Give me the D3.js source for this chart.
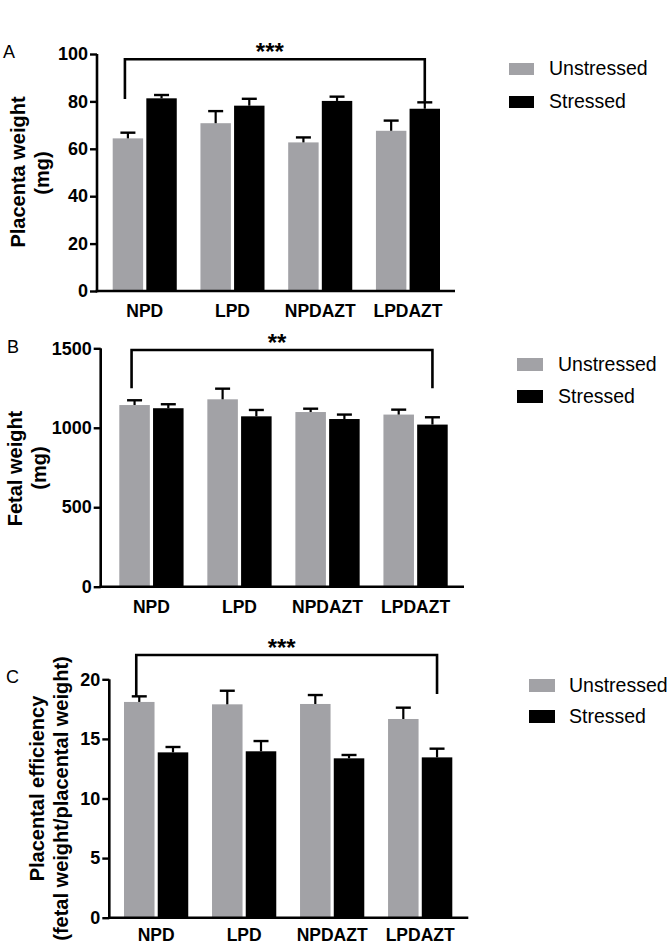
<!DOCTYPE html>
<html>
<head>
<meta charset="utf-8">
<script src="https://cdn.jsdelivr.net/npm/d3@7"></script>
<style>
  html, body { margin: 0; padding: 0; background: #fff; }
  svg { display: block; font-family: "Liberation Sans", Arial, Helvetica, sans-serif; }
</style>
</head>
<body>
<svg id="chart" width="669" height="944"></svg>
<script>
// ---------- DATA ----------
const categories = ["NPD", "LPD", "NPDAZT", "LPDAZT"];
const seriesNames = ["Unstressed", "Stressed"];

// Panel A: placenta weight (mg)
const placentaUnstressed = [64.4, 70.8, 62.7, 67.6];
const placentaUnstressedErr = [2.4, 5.1, 2.1, 4.3];
const placentaStressed = [81.3, 78.2, 80.2, 76.9];
const placentaStressedErr = [1.4, 2.9, 1.8, 2.7];
const placentaTicks = [0, 20, 40, 60, 80, 100];

// Panel B: fetal weight (mg)
const fetalUnstressed = [1143, 1179, 1099, 1083];
const fetalUnstressedErr = [30, 67, 21, 31];
const fetalStressed = [1123, 1072, 1055, 1020];
const fetalStressedErr = [25, 40, 28, 46];
const fetalTicks = [0, 500, 1000, 1500];

// Panel C: placental efficiency
const efficiencyUnstressed = [18.1, 17.9, 17.93, 16.67];
const efficiencyUnstressedErr = [0.47, 1.14, 0.75, 0.95];
const efficiencyStressed = [13.87, 13.96, 13.37, 13.45];
const efficiencyStressedErr = [0.45, 0.86, 0.28, 0.73];
const efficiencyTicks = [0, 5, 10, 15, 20];

// Significance brackets (in data units): top, left leg end, right leg end
const placentaBracket = [97.8, 81.0, 79.9];
const fetalBracket = [1489, 1248, 1248];
const efficiencyBracket = [22.04, 18.54, 18.77];
const significance = ["***", "**", "***"];

// ---------- LAYOUT ----------
const colors = { Unstressed: "#a2a2a6", Stressed: "#000000" };
const FONT_BOLD = 18;

const panels = [
  {
    letter: "A", letterX: 3, letterY: 58,
    unst: placentaUnstressed, unstErr: placentaUnstressedErr,
    str: placentaStressed, strErr: placentaStressedErr,
    ticks: placentaTicks, yMax: 100,
    axisX: 97, axisEnd: 455, yTop: 54, yBottom: 291, xPad: 14,
    barStart: 112.7, barEnd: 440,
    labelLines: [{ t: "Placenta weight", x: 25, cy: 172 }, { t: "(mg)", x: 49, cy: 173 }],
    bracket: placentaBracket, sig: significance[0],
    legend: { sx: 509, sw: 25, sh: 12, y1: 63, y2: 96, tx: 549 }
  },
  {
    letter: "B", letterX: 7, letterY: 353,
    unst: fetalUnstressed, unstErr: fetalUnstressedErr,
    str: fetalStressed, strErr: fetalStressedErr,
    ticks: fetalTicks, yMax: 1500,
    axisX: 100.7, axisEnd: 464, yTop: 348.3, yBottom: 586.7, xPad: 14,
    barStart: 119.3, barEnd: 447.7,
    labelLines: [{ t: "Fetal weight", x: 22, cy: 468.5 }, { t: "(mg)", x: 46, cy: 468 }],
    bracket: fetalBracket, sig: significance[1],
    legend: { sx: 517, sw: 26, sh: 13, y1: 358, y2: 390, tx: 558 }
  },
  {
    letter: "C", letterX: 6, letterY: 683,
    unst: efficiencyUnstressed, unstErr: efficiencyUnstressedErr,
    str: efficiencyStressed, strErr: efficiencyStressedErr,
    ticks: efficiencyTicks, yMax: 20,
    axisX: 109.3, axisEnd: 468.3, yTop: 679.3, yBottom: 917.7, xPad: 11,
    barStart: 124, barEnd: 452.3,
    labelLines: [{ t: "Placental efficiency", x: 44, cy: 788.5 }, { t: "(fetal weight/placental weight)", x: 68, cy: 798.5 }],
    bracket: efficiencyBracket, sig: significance[2],
    legend: { sx: 529, sw: 26, sh: 13, y1: 679, y2: 710, tx: 569 }
  }
];

const svg = d3.select("#chart");

panels.forEach(p => {
  const g = svg.append("g");

  const y = d3.scaleLinear().domain([0, p.yMax]).range([p.yBottom, p.yTop]);
  const x = d3.scaleBand().domain(categories).range([p.barStart, p.barEnd])
    .paddingInner(0.27).paddingOuter(0);
  const xs = d3.scaleBand().domain(seriesNames).range([0, x.bandwidth()]).paddingInner(0.095);

  const rows = categories.map((c, i) => ({
    cat: c,
    vals: [
      { s: "Unstressed", v: p.unst[i], e: p.unstErr[i] },
      { s: "Stressed", v: p.str[i], e: p.strErr[i] }
    ]
  }));

  // bars
  const grp = g.selectAll("g.grp").data(rows).join("g")
    .attr("transform", d => `translate(${x(d.cat)},0)`);
  grp.selectAll("rect").data(d => d.vals).join("rect")
    .attr("x", d => xs(d.s))
    .attr("y", d => y(d.v))
    .attr("width", xs.bandwidth())
    .attr("height", d => y(0) - y(d.v))
    .attr("fill", d => colors[d.s]);

  // error bars (upper only)
  const eb = grp.selectAll("g.eb").data(d => d.vals).join("g").attr("class", "eb");
  eb.append("line")
    .attr("x1", d => xs(d.s) + xs.bandwidth() / 2)
    .attr("x2", d => xs(d.s) + xs.bandwidth() / 2)
    .attr("y1", d => y(d.v))
    .attr("y2", d => y(d.v + d.e))
    .attr("stroke", "#000").attr("stroke-width", 2.2);
  eb.append("line")
    .attr("x1", d => xs(d.s) + xs.bandwidth() / 2 - 7.5)
    .attr("x2", d => xs(d.s) + xs.bandwidth() / 2 + 7.5)
    .attr("y1", d => y(d.v + d.e))
    .attr("y2", d => y(d.v + d.e))
    .attr("stroke", "#000").attr("stroke-width", 2.4);

  // y axis
  const yAxis = d3.axisLeft(y).tickValues(p.ticks).tickFormat(d3.format("d"))
    .tickSize(7).tickPadding(2).tickSizeOuter(0);
  const ya = g.append("g").attr("transform", `translate(${p.axisX},0)`).call(yAxis);
  ya.select(".domain").attr("stroke-width", 2.6).attr("d", `M0,${p.yTop}V${p.yBottom + 1.3}`);
  ya.selectAll(".tick line").attr("stroke-width", 2.4);
  ya.selectAll(".tick text")
    .attr("font-size", FONT_BOLD).attr("font-weight", "bold")
    .attr("font-family", "Liberation Sans, Arial, sans-serif").attr("fill", "#000");

  // x axis
  const xAxis = d3.axisBottom(x).tickSize(0).tickPadding(p.xPad);
  const xa = g.append("g").attr("transform", `translate(0,${p.yBottom})`).call(xAxis);
  xa.select(".domain").remove();
  xa.selectAll(".tick text")
    .attr("font-size", 17.5).attr("font-weight", "bold")
    .attr("font-family", "Liberation Sans, Arial, sans-serif").attr("fill", "#000");
  g.append("line")
    .attr("x1", p.axisX - 1.3).attr("x2", p.axisEnd)
    .attr("y1", p.yBottom).attr("y2", p.yBottom)
    .attr("stroke", "#000").attr("stroke-width", 2.6);

  // y label
  p.labelLines.forEach(l => {
    g.append("text")
      .attr("transform", `translate(${l.x},${l.cy}) rotate(-90)`)
      .attr("text-anchor", "middle")
      .attr("font-size", 20).attr("font-weight", "bold")
      .text(l.t);
  });

  // panel letter
  g.append("text").attr("x", p.letterX).attr("y", p.letterY)
    .attr("font-size", 18).text(p.letter);

  // significance bracket
  const bx1 = x(categories[0]) + xs("Unstressed") + xs.bandwidth() / 2 - 3;
  const bx2 = x(categories[3]) + xs("Stressed") + xs.bandwidth() / 2;
  const [bt, bl, br] = p.bracket;
  g.append("path")
    .attr("d", `M${bx1},${y(bl)}V${y(bt)}H${bx2}V${y(br)}`)
    .attr("fill", "none").attr("stroke", "#000").attr("stroke-width", 2.6);
  g.append("text")
    .attr("x", (bx1 + bx2) / 2 - 5).attr("y", y(bt) + 1)
    .attr("text-anchor", "middle")
    .attr("font-size", 24).attr("font-weight", "bold")
    .text(p.sig);

  // legend
  const L = p.legend;
  seriesNames.forEach((s, i) => {
    const yy = i === 0 ? L.y1 : L.y2;
    g.append("rect").attr("x", L.sx).attr("y", yy).attr("width", L.sw).attr("height", L.sh)
      .attr("fill", colors[s]);
    g.append("text").attr("x", L.tx).attr("y", yy + L.sh)
      .attr("font-size", 19.5).text(s);
  });
});
</script>
</body>
</html>
